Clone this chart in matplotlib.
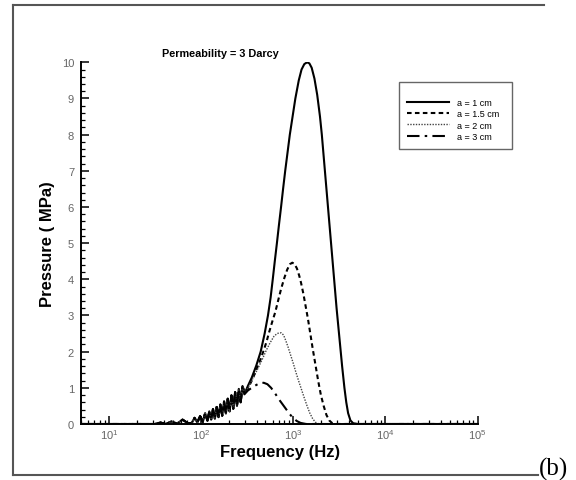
import numpy as np
import matplotlib.pyplot as plt
from matplotlib.lines import Line2D
from matplotlib.patches import Rectangle
from matplotlib.ticker import FixedLocator, MultipleLocator, LogLocator, NullFormatter

plt.rcParams['font.family'] = ['Liberation Sans', 'DejaVu Sans']
plt.rcParams['mathtext.fontset'] = 'custom'
plt.rcParams['mathtext.rm'] = 'Liberation Sans'

# Low-frequency ripple shared by all source sizes (log10 of frequency in Hz, pressure in MPa)
wig_logf = [0.70, 1.50, 1.56, 1.62, 1.68, 1.74, 1.80, 1.86, 1.90, 1.93,
            1.96, 1.99, 2.02, 2.045, 2.07, 2.09, 2.11, 2.13, 2.15, 2.17,
            2.19, 2.21, 2.23, 2.25, 2.27, 2.29, 2.31, 2.33, 2.35, 2.37,
            2.39, 2.41, 2.43, 2.45]
wig_p = [0.0, 0.0, 0.04, 0.0, 0.07, 0.01, 0.12, 0.02, 0.03, 0.17,
         0.04, 0.22, 0.06, 0.30, 0.09, 0.35, 0.12, 0.41, 0.15, 0.47,
         0.19, 0.54, 0.23, 0.62, 0.29, 0.70, 0.35, 0.79, 0.42, 0.88,
         0.50, 0.97, 0.60, 1.05]

# a = 1 cm
a1_logf = [2.475, 2.508, 2.55, 2.60, 2.647, 2.69, 2.726, 2.755, 2.778, 2.80,
           2.823, 2.845, 2.868, 2.89, 2.913, 2.938, 2.963, 2.993, 3.023, 3.06,
           3.09, 3.12, 3.15, 3.175, 3.20, 3.23, 3.26, 3.29, 3.31, 3.33,
           3.35, 3.37, 3.39, 3.41, 3.43, 3.45, 3.47, 3.50, 3.53, 3.555,
           3.575, 3.595, 3.62, 3.65, 3.70, 5.0]
a1_p = [0.85, 1.05, 1.28, 1.62, 2.0, 2.5, 3.0, 3.5, 4.0, 4.5,
        5.0, 5.5, 6.0, 6.5, 7.0, 7.5, 8.0, 8.5, 9.0, 9.5,
        9.8, 9.95, 10.0, 9.97, 9.85, 9.55, 9.1, 8.5, 8.0, 7.4,
        6.8, 6.2, 5.6, 5.0, 4.4, 3.8, 3.2, 2.4, 1.6, 1.0,
        0.6, 0.3, 0.1, 0.02, 0.0, 0.0]

# a = 1.5 cm
a15_logf = [2.475, 2.516, 2.56, 2.60, 2.64, 2.675, 2.71, 2.74, 2.775, 2.806,
            2.84, 2.87, 2.905, 2.935, 2.965, 2.99, 3.015, 3.04, 3.065, 3.085,
            3.11, 3.135, 3.16, 3.185, 3.21, 3.24, 3.27, 3.30, 3.33, 3.36,
            3.39, 3.42, 3.46, 5.0]
a15_p = [0.85, 1.02, 1.25, 1.5, 1.75, 2.0, 2.27, 2.55, 2.85, 3.1,
         3.45, 3.75, 4.05, 4.27, 4.42, 4.46, 4.42, 4.3, 4.1, 3.9,
         3.6, 3.25, 2.9, 2.5, 2.1, 1.65, 1.2, 0.8, 0.5, 0.25,
         0.1, 0.03, 0.0, 0.0]

# a = 2 cm
a2_logf = [2.475, 2.52, 2.57, 2.62, 2.67, 2.71, 2.75, 2.79, 2.82, 2.845,
           2.87, 2.895, 2.92, 2.945, 2.97, 3.0, 3.03, 3.06, 3.09, 3.12,
           3.15, 3.18, 3.21, 3.24, 3.28, 5.0]
a2_p = [0.85, 1.05, 1.3, 1.55, 1.82, 2.05, 2.25, 2.42, 2.49, 2.52,
        2.52, 2.46, 2.3, 2.12, 1.92, 1.68, 1.42, 1.18, 0.95, 0.72,
        0.5, 0.3, 0.15, 0.05, 0.0, 0.0]

# a = 3 cm
a3_logf = [2.47, 2.51, 2.55, 2.60, 2.64, 2.68, 2.72, 2.76, 2.80,
           2.84, 2.88, 2.92, 2.96, 3.00, 3.04, 3.08, 3.14, 5.0]
a3_p = [0.82, 0.93, 1.0, 1.08, 1.13, 1.14, 1.1, 1.0, 0.86,
        0.7, 0.56, 0.42, 0.28, 0.16, 0.08, 0.03, 0.0, 0.0]

labels = ['a = 1 cm', 'a = 1.5 cm', 'a = 2 cm', 'a = 3 cm']
y_ticks = list(range(0, 11))
x_decades = [1, 2, 3, 4, 5]

series = [
    (a1_logf, a1_p, dict(linestyle='-', linewidth=1.5)),
    (a15_logf, a15_p, dict(linestyle=(0, (2.2, 1.6)), linewidth=1.5)),
    (a2_logf, a2_p, dict(linestyle=(0, (1, 1)), linewidth=1.0, color='#444444')),
    (a3_logf, a3_p, dict(linestyle=(0, (6, 2.5, 1.2, 2.5)), linewidth=1.5)),
]

fig = plt.figure(figsize=(5.76, 4.81), dpi=100)
ax = fig.add_axes([81 / 576, 1 - 425 / 481, (477.7 - 81) / 576, (425 - 63.3) / 481])

handles = []
for (logf, p, style), lab in zip(series, labels):
    f = 10 ** np.array(wig_logf + logf)
    pr = np.array(wig_p + p)
    kw = dict(color='black')
    kw.update(style)
    ax.plot(f, pr, **kw)
    handles.append(Line2D([], [], label=lab, **kw))

ax.set_xscale('log')
ax.set_xlim(5, 1e5)
ax.set_ylim(0, 10)

for s in ['top', 'right']:
    ax.spines[s].set_visible(False)
for s in ['left', 'bottom']:
    ax.spines[s].set_linewidth(1.4)

ax.yaxis.set_major_locator(FixedLocator(y_ticks))
ax.yaxis.set_minor_locator(MultipleLocator(0.2))
ax.xaxis.set_major_locator(FixedLocator([10.0 ** d for d in x_decades]))
ax.xaxis.set_minor_locator(LogLocator(base=10, subs=np.arange(2, 10), numticks=20))
ax.xaxis.set_minor_formatter(NullFormatter())
ax.set_xticklabels(['$10^{%d}$' % d for d in x_decades])
ax.tick_params(which='major', direction='in', length=6, width=1.1,
               labelsize=8, labelcolor='#666666', pad=5)
ax.tick_params(axis='x', which='major', pad=2)
ax.tick_params(which='minor', direction='in', length=3, width=0.9)

ax.set_xlabel('Frequency (Hz)', fontsize=12, fontweight='bold')
ax.xaxis.set_label_coords(0.5016, -0.054)
ax.set_ylabel('Pressure ( MPa)', fontsize=12, fontweight='bold', labelpad=5)

fig.text(220 / 576, 1 - 54 / 481, 'Permeability = 3 Darcy', fontsize=7.8,
         fontweight='bold', ha='center', va='center')

# legend entries without frame, box drawn separately
leg = fig.legend(handles=handles, loc='upper left',
                 bbox_to_anchor=(407 / 576, 1 - 99 / 481), bbox_transform=fig.transFigure,
                 fontsize=6.5, handlelength=4.6, handletextpad=0.9, labelspacing=0.25,
                 borderpad=0, borderaxespad=0, frameon=False)
fig.add_artist(Rectangle((399 / 576, 1 - 150 / 481), 113 / 576, 67 / 481,
                         transform=fig.transFigure, fill=False,
                         edgecolor='#666666', linewidth=1.0))

# page frame around the panel
frame_kw = dict(color='#555555', linewidth=1.5, transform=fig.transFigure)
fig.add_artist(Line2D([12.5 / 576, 544 / 576], [1 - 6 / 481, 1 - 6 / 481], **frame_kw))
fig.add_artist(Line2D([12.5 / 576, 12.5 / 576], [1 - 6 / 481, 1 - 476 / 481], **frame_kw))
fig.add_artist(Line2D([12.5 / 576, 538 / 576], [1 - 476 / 481, 1 - 476 / 481], **frame_kw))
fig.text(539 / 576, 1 - 476 / 481, '(b)', fontsize=18, family='Liberation Serif',
         ha='left', va='baseline')

fig.savefig('out.png', dpi=100)
